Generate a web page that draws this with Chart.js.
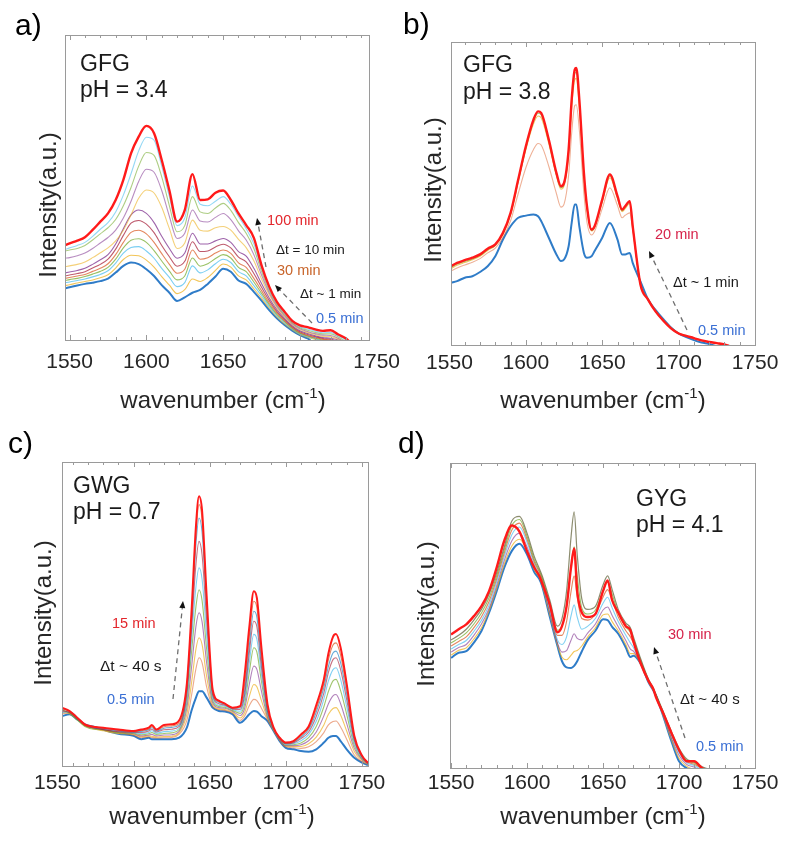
<!DOCTYPE html>
<html>
<head>
<meta charset="utf-8">
<script src="https://cdn.jsdelivr.net/npm/chart.js@4.4.1/dist/chart.umd.min.js"></script>
<style>
    body { margin: 0; background: #fff; width: 787px; height: 842px; position: relative; overflow: hidden; }
    canvas { position: absolute; }
</style>
</head>
<body>
<canvas id="chartA" width="410" height="421" style="left:0;top:0"></canvas>
<canvas id="chartB" width="394" height="421" style="left:393px;top:0"></canvas>
<canvas id="chartC" width="410" height="421" style="left:0;top:421px"></canvas>
<canvas id="chartD" width="394" height="421" style="left:393px;top:421px"></canvas>
<script>
// ── Datos (intensidad en % de la altura del recuadro) ─────────────
const tickLabels = [1550, 1600, 1650, 1700, 1750];

// a) GFG pH 3.4
const waveA = [1547, 1550, 1555, 1560, 1565, 1570, 1575, 1580, 1585, 1590, 1595, 1600, 1605, 1610, 1615, 1620, 1625, 1630, 1635, 1640, 1645, 1650, 1655, 1660, 1665, 1670, 1675, 1680, 1685, 1690, 1695, 1700, 1705, 1710, 1715, 1720, 1725, 1730, 1735];
const a100min = [31.1, 31.7, 32.6, 33.7, 36.1, 38.8, 41.5, 45.9, 52.5, 61.2, 66.7, 70.2, 67.8, 59, 49, 38.8, 42.6, 54.4, 45.9, 46.1, 48.3, 49, 45.9, 41.5, 37.7, 33.5, 24.5, 17.5, 12.5, 9.3, 6.3, 4.8, 4.2, 3.5, 3, 3.2, 1.8, 0.5, -2];
const aLightBlue = [29.7, 30.2, 31, 32, 34, 36.3, 38.5, 42, 47.5, 54.5, 62, 66.5, 65.5, 57, 47, 37.5, 40, 50.5, 44.5, 44, 45.5, 47, 44.5, 40.5, 36.5, 31.5, 23.5, 16.8, 12, 8.8, 6, 4.3, 3.6, 2.9, 2.4, 2.5, 1.3, 0, -2];
const aGreen = [29.2, 29.5, 30, 31, 32.8, 34.8, 36.8, 39.5, 44, 50, 57, 61.5, 60.5, 53.5, 44, 35.5, 37.5, 47, 42, 41.5, 43.3, 44.8, 42.5, 38.5, 35, 30, 22.5, 16.2, 11.6, 8.4, 5.7, 4, 3.2, 2.5, 2, 2, 1, -0.5, -2];
const aPurple = [26.8, 27, 27.6, 28.5, 30, 31.8, 33.6, 36, 40, 45.5, 52, 56, 55, 49, 40.5, 33.3, 35, 42.6, 39, 38.7, 40.2, 41.5, 39.5, 35.8, 32.8, 28, 21.3, 15.5, 11.1, 8, 5.4, 3.7, 2.8, 2.1, 1.6, 1.5, 0.6, -1, -2];
const aYellow = [24, 24.3, 24.8, 25.6, 27, 28.6, 30.2, 32.5, 36, 41, 46.5, 49.2, 48.2, 43.5, 36.5, 30, 31.8, 39.3, 36, 35.7, 36.8, 37.2, 36, 33, 30.3, 26, 20, 14.8, 10.6, 7.6, 5.1, 3.4, 2.5, 1.8, 1.2, 1.1, 0.3, -1, -2];
const aClust1 = [22, 22.3, 22.8, 23.5, 24.8, 26.3, 28, 31.5, 36.5, 41, 42.6, 41.5, 38.5, 34, 30, 26.8, 28.5, 35, 31.5, 31.5, 32.5, 33.3, 32, 29, 27.5, 23.5, 18.5, 13.8, 10, 7.1, 4.7, 3, 2.1, 1.4, 0.8, 0.6, 0, -1, -2];
const aClust2 = [21, 21.3, 21.8, 22.4, 23.6, 24.8, 26.5, 29.8, 34.3, 38.3, 39.2, 38, 35.2, 31, 27.3, 24.2, 25.8, 32.2, 29, 29.2, 30.5, 31.4, 30.2, 27.2, 25.6, 21.8, 17.3, 13, 9.4, 6.7, 4.4, 2.7, 1.8, 1.1, 0.5, 0.3, -0.5, -1, -2];
const aClust3 = [20.2, 20.5, 21, 21.5, 22.5, 23.5, 25, 28, 32, 35.3, 36, 34.8, 32, 28.3, 24.8, 21.9, 23.2, 29.5, 26.5, 27, 28.5, 29.5, 28.4, 25.3, 23.8, 20.2, 16.2, 12.2, 8.9, 6.3, 4.1, 2.4, 1.5, 0.8, 0.2, 0, -1, -1, -2];
const aClust4 = [19.5, 19.8, 20.2, 20.8, 21.6, 22.5, 23.8, 26.5, 30.2, 32.7, 33.2, 32, 29.3, 25.9, 22.6, 19.7, 21, 26.9, 24.2, 25, 26.7, 28, 26.9, 23.8, 22.4, 19, 15.3, 11.6, 8.4, 6, 3.8, 2.2, 1.3, 0.6, 0, -0.3, -1, -1, -2];
const aClust5 = [18.8, 19, 19.5, 20, 20.7, 21.5, 22.7, 25.2, 28.5, 30.3, 30.6, 29.2, 26.8, 23.5, 20.5, 17.5, 18.8, 24.3, 22, 23, 25, 26.5, 25.4, 22.4, 21, 17.8, 14.5, 11, 8, 5.6, 3.6, 2, 1.1, 0.4, -0.3, -0.5, -1, -1, -2];
const aClust6 = [17.8, 18.1, 18.7, 19.2, 19.7, 20.4, 21.4, 23.6, 26.4, 27.8, 27.6, 26.2, 23.9, 20.8, 18, 15.2, 16.5, 20, 19.2, 20.5, 22.8, 24.9, 23.9, 21, 19.7, 16.8, 13.7, 10.5, 7.6, 5.3, 3.4, 1.8, 0.9, 0.2, -0.5, -1, -1, -1, -2];
const a05min = [16.9, 17.3, 17.9, 18.4, 18.8, 19.3, 20.1, 22.1, 24.3, 25.4, 24.9, 23.2, 21, 18, 15.5, 12.8, 14, 15.5, 16.4, 18.4, 20.8, 23.4, 22.4, 19.5, 18.4, 15.8, 12.9, 9.8, 7.1, 4.9, 3.1, 1.6, 0.5, -1, -1, -1, -1, -1, -2];

// b) GFG pH 3.8
const waveB = [1551, 1555, 1560, 1565, 1570, 1575, 1580, 1585, 1590, 1595, 1600, 1605, 1608, 1610, 1615, 1620, 1623, 1625, 1628, 1630, 1632, 1633, 1635, 1638, 1640, 1643, 1645, 1650, 1655, 1660, 1663, 1665, 1668, 1670, 1675, 1680, 1685, 1690, 1695, 1700, 1705, 1710, 1715, 1720, 1725, 1730, 1733];
const b20min = [26, 27.1, 28, 28.8, 29.9, 31.8, 33.2, 37, 43.6, 54.6, 65.6, 74.4, 77.1, 76.6, 67.8, 56.8, 52.4, 53.5, 64.5, 81, 90.9, 91.4, 81, 56.8, 45.8, 38.1, 39.2, 48, 56.3, 49.1, 44.7, 45.8, 47.5, 39, 20, 15, 11, 8, 5.5, 3.8, 3, 2.3, 1.5, 1, 0.6, 0.2, -0.3];
const bGreen = [25.6, 26.7, 27.6, 28.4, 29.6, 31.5, 33, 36.8, 43.3, 54.2, 65, 73.8, 76.5, 76, 67.2, 56.2, 51.9, 53, 63.8, 80, 89.5, 90, 80, 56, 45.4, 37.8, 39, 47.6, 55.8, 48.7, 44.3, 45.4, 47.1, 38.8, 20.1, 15.1, 11.1, 8.1, 5.6, 3.9, 3, 2.3, 1.5, 1, 0.6, 0.1, -0.3];
const bYellow = [25.2, 26.3, 27.2, 28.1, 29.3, 31.2, 32.8, 36.5, 43, 53.8, 64.5, 73, 75.6, 75, 66.5, 55.8, 51.4, 52.5, 63, 78.5, 87.5, 88, 78.5, 55.5, 45, 37.6, 38.8, 47.2, 55.2, 48.3, 44, 45, 46.7, 38.5, 20.3, 15.2, 11.2, 8.1, 5.6, 3.9, 3, 2.3, 1.5, 1, 0.6, 0.1, -0.3];
const bOrange = [24.4, 25.4, 26.4, 27.3, 28.5, 30.4, 32, 35.5, 41, 50, 58.5, 64.5, 66.5, 66, 59, 50, 45.5, 46.5, 56, 70, 79, 79.3, 71, 50, 40.5, 36.3, 37.5, 45, 51.9, 46, 42, 42.8, 43.6, 38, 20, 15, 11, 8, 5.5, 3.8, 2.9, 2.2, 1.4, 0.9, 0.5, 0, -0.5];
const b05min = [20.5, 21.1, 22.2, 22.7, 24.1, 26, 29.3, 34.8, 39.2, 42, 42.7, 43.1, 42.5, 40.9, 35.4, 29.9, 27.7, 28.2, 32.6, 40.3, 46.4, 46.4, 39.2, 30.4, 28.8, 29.3, 31, 35.4, 40.3, 34.8, 29.9, 29.9, 30.4, 27, 21, 15, 11.5, 8.5, 5.8, 3.8, 2.6, 1.6, 0.8, 0.3, -0.5, -1, -1];

// c) GWG pH 0.7
const waveC = [1553, 1558, 1563, 1568, 1575, 1580, 1590, 1600, 1605, 1610, 1612, 1615, 1620, 1625, 1630, 1635, 1638, 1641, 1643, 1645, 1648, 1652, 1656, 1660, 1665, 1670, 1673, 1676, 1679, 1681, 1684, 1688, 1692, 1696, 1700, 1705, 1710, 1715, 1720, 1725, 1728, 1731, 1733, 1736, 1740, 1745, 1750, 1754];
const c15min = [19.2, 18.1, 15.9, 13.7, 12.8, 12.6, 12, 11.5, 12, 12.6, 13.5, 12, 13.5, 13.7, 15, 27, 50, 79, 88.7, 84, 56, 25, 21.5, 20.5, 19.2, 19.7, 30.1, 45.5, 57.5, 55.3, 38.9, 20.3, 12.6, 9.3, 7.7, 8.2, 10.4, 13, 20, 28.5, 37, 42.5, 43.4, 39, 27, 10, 3.5, 1];
const cStep8 = [19, 17.8, 15.8, 13.3, 12.7, 12.5, 11.8, 11.4, 11.7, 12.2, 13, 11.8, 12.9, 13.2, 14, 26.5, 48.5, 76.5, 86, 81, 54, 24.5, 21.2, 20.5, 19.1, 19.4, 27, 42.5, 54.2, 52.2, 36.7, 19.5, 12.5, 9.2, 7.5, 8, 10, 12.5, 18.8, 27.2, 35, 39.8, 40.5, 36.5, 25.5, 9.5, 3.4, 1];
const cStep7 = [18.9, 18, 15.5, 13.6, 12.5, 12.4, 11.7, 11.3, 11.4, 11.9, 12.6, 11.5, 12.4, 12.7, 13.5, 25.5, 47, 73, 81.6, 77, 52, 24, 21, 20.3, 19, 19.1, 25, 39.5, 50.9, 49, 34.6, 18.7, 12.4, 9.1, 7.4, 7.8, 9.5, 12, 17.7, 25.8, 32.8, 37.2, 37.8, 34, 23.7, 9, 3.2, 0.9];
const cStep6 = [18.3, 17.6, 15.6, 13.4, 12.4, 12, 11.3, 11.1, 11, 11.5, 12.1, 11.2, 11.9, 12.1, 13, 24, 44.5, 66.5, 73.9, 69.5, 48, 23.3, 20.5, 20, 18.8, 18.6, 23.5, 37, 47.6, 45.8, 32.6, 18, 12.3, 9, 7.3, 7.6, 9, 11.2, 16.3, 24, 30.8, 35, 35.6, 31.7, 21.8, 8.4, 3, 0.9];
const cStep5 = [17.5, 17.9, 16, 13.8, 12.6, 12.3, 11.5, 11, 10.7, 11, 11.6, 10.8, 11.3, 11.5, 12.5, 22.5, 41, 59, 65.2, 61.5, 43, 22.5, 20, 19.7, 18.6, 18, 22, 33.8, 43.3, 41.7, 30.1, 17.3, 12.1, 8.9, 7.1, 7.3, 8.3, 10.3, 14.7, 22, 28, 31.7, 32.3, 28.5, 19.5, 7.6, 2.8, 0.8];
const cStep4 = [18.6, 17.3, 15.1, 13, 12, 11.9, 11, 10.8, 10.3, 10.6, 11, 10.4, 10.7, 10.9, 12, 21, 37, 52.5, 58, 54.5, 38.5, 21.6, 19.6, 19.3, 18.3, 17.3, 20.5, 30.7, 38.9, 37.5, 27.8, 16.7, 12, 8.8, 6.9, 7, 7.6, 9.3, 13, 19.5, 24.5, 28, 28.5, 24.8, 17, 6.8, 2.5, 0.8];
const cStep3 = [18, 17.6, 15.8, 13.5, 12.4, 12.1, 11.2, 10.6, 9.9, 10.2, 10.4, 9.9, 10.2, 10.3, 11.5, 19, 32, 46, 50.4, 47.5, 34, 20.8, 19.2, 19, 18, 16.6, 19, 26.8, 32.9, 31.8, 24.6, 16.1, 11.9, 8.6, 6.7, 6.7, 7, 8.3, 11.2, 16.5, 20.5, 23.1, 23.5, 20.5, 14, 5.8, 2.2, 0.7];
const cStep2 = [17.8, 17.2, 15.4, 13.2, 12.1, 11.6, 10.7, 10.4, 9.6, 9.9, 9.8, 9.5, 9.7, 9.8, 11, 17, 27, 38.5, 42.2, 40, 29.5, 20, 18.8, 18.6, 17.7, 15.8, 17.6, 22.8, 26.8, 26.1, 21.5, 15.6, 11.8, 8.5, 6.5, 6.4, 6.4, 7.3, 9.5, 13.5, 17, 18.9, 19.2, 16.8, 11.5, 4.8, 1.9, 0.6];
const cStep1 = [17.2, 17.5, 15.6, 13.4, 12.3, 11.8, 10.9, 10.2, 9.3, 9.6, 9.4, 9.2, 9.3, 9.4, 10.5, 15, 23, 32, 35.6, 34, 26, 19.5, 18.6, 18.3, 17.4, 15, 16.5, 19.8, 21.9, 21.5, 19, 15.2, 11.6, 8.4, 6.3, 6, 5.8, 6.3, 8, 11, 13.5, 14.6, 14.8, 12.8, 8.8, 3.6, 1.5, 0.5];
const c05min = [16.4, 17, 15.3, 13.7, 12.8, 12, 10.6, 9.9, 8.8, 9.3, 8.8, 8.8, 8.8, 8.8, 9.3, 12.6, 18.1, 22.5, 24.6, 24.6, 22.5, 19.2, 18.1, 17.9, 17, 14.2, 15.3, 17, 18.1, 17.9, 16.4, 14.8, 11.5, 8.2, 6, 5.5, 4.9, 4.7, 5.5, 7.7, 9.3, 9.9, 9.9, 8.2, 5.5, 2.7, 1.1, 0.3];

// d) GYG pH 4.1
const waveD = [1550, 1555, 1560, 1565, 1570, 1575, 1580, 1585, 1590, 1595, 1600, 1605, 1608, 1610, 1615, 1620, 1623, 1626, 1629, 1631, 1633, 1636, 1640, 1645, 1650, 1653, 1656, 1660, 1665, 1668, 1670, 1675, 1680, 1683, 1685, 1690, 1695, 1700, 1705, 1710, 1715, 1720];
const d30min = [43.8, 45.5, 47.1, 49.8, 53.1, 58, 65.7, 74.5, 79.5, 77.5, 71, 65.5, 63, 60.5, 53.5, 44.5, 46.5, 53, 66, 72, 58, 51, 49.5, 50.5, 58, 61.5, 55, 51, 46.5, 45.2, 41.5, 34, 28.5, 26, 23, 17.5, 11.5, 6, 2.2, 2.2, 0, -1];
const dTop = [42, 43.5, 45.5, 48.5, 52, 57, 64, 72.5, 81, 82.5, 77, 69, 65.5, 63, 55, 46.5, 49, 58, 76, 84, 70, 55.5, 52, 53, 60, 63, 58.5, 52, 47.5, 46, 43, 35.5, 29, 26.3, 24, 18, 12, 6.5, 3, 2, 0.5, -0.5];
const dGreen = [41, 42.5, 44.3, 47.2, 50.8, 55.8, 63, 71.5, 79.5, 81.5, 76, 68, 64.8, 62.3, 54, 45.2, 46.5, 53, 66, 72.5, 63, 52.5, 50.5, 51.8, 58, 61, 57, 50.8, 46.3, 44.5, 42.2, 35, 28.8, 26.1, 23.8, 17.8, 11.6, 6, 2.6, 1.6, 0.2, -0.5];
const dOrange = [40, 41.5, 43, 46, 49.6, 54.6, 62, 70.5, 78, 80.3, 75, 67.3, 64.3, 61.8, 53, 43.5, 43.5, 48, 58, 63, 56, 49, 48.5, 50.5, 56, 58.5, 55, 49.5, 45, 43, 41, 34.6, 28.6, 25.9, 23.7, 17.5, 11.2, 5.5, 2.2, 1.2, 0, -1];
const dLightBlue = [39, 40.5, 41.8, 44.8, 48.4, 53.4, 61, 69.3, 76.5, 79, 74, 66.5, 63.6, 61.2, 52, 42, 40.5, 43, 50, 53.5, 49.5, 45.5, 46.5, 49, 54, 56, 52.5, 48, 43.5, 41, 39.5, 34.3, 28.4, 25.8, 23.6, 17.2, 10.7, 5, 1.8, 0.8, -0.5, -1];
const dPurple = [38, 39.5, 40.5, 43.5, 47.2, 52.3, 59.8, 68, 74.5, 77, 72.5, 65.5, 63, 60.5, 51, 41, 38, 38.5, 42, 44, 42.5, 42, 44.3, 47.2, 51.8, 52.8, 50, 46.3, 41.8, 39, 38.3, 34.1, 28.2, 25.7, 23.5, 16.8, 10, 4.2, 1.2, 0.3, -1, -1];
const dYellow = [37, 38.6, 39.4, 42.3, 46, 51.6, 58.8, 66.8, 72.8, 75, 71.3, 64.8, 62.5, 60, 50.2, 40.5, 36.3, 35.5, 37, 38.2, 38.5, 40, 43, 46, 50.2, 50.5, 48, 45, 40.5, 37.5, 37.5, 34, 28.1, 25.6, 23.5, 16.6, 9.4, 3.2, 0.6, -0.5, -1, -1];
const d05min = [36.1, 37.8, 38.3, 41.1, 44.9, 50.9, 58, 65.7, 71.2, 73.5, 70, 64, 62, 59.5, 49.5, 40, 35, 33, 32.8, 33.5, 35, 38.2, 42, 45, 48.8, 48.5, 46.3, 44, 39.5, 36.4, 36.8, 34, 28, 25.5, 23.5, 16.4, 8.8, 2.2, 0, -1, -1, -1];

// ── Estilos ──────────────────────────────────────────────────
const FONT = '"Liberation Sans", Arial, Helvetica, sans-serif';
const C_RED = "#ff1a1a";
const C_BLUE = "#2f7cc8";
const M = { blue: "#0072BD", orange: "#D95319", yellow: "#EDB120", purple: "#7E2F8E", green: "#77AC30", cyan: "#4DBEEE", wine: "#A2142F" };
const TXT_RED = "#e3262c", TXT_CRIMSON = "#d6234a", TXT_ORANGE = "#c8642a", TXT_BLUE = "#3a6fd4", TXT_DARK = "#1a1a1a";

function fade(hex, a) {
    const n = parseInt(hex.slice(1), 16);
    return `rgba(${n >> 16}, ${(n >> 8) & 255}, ${n & 255}, ${a})`;
}

function serie(wave, vals, color, width) {
    return {
        data: wave.map((x, i) => ({ x, y: vals[i] })),
        borderColor: color,
        borderWidth: width,
        pointRadius: 0,
        fill: false,
        cubicInterpolationMode: "monotone"
    };
}

// ── Helpers de dibujo ────────────────────────────────────────
function drawXTitle(ctx, cx, y) {
    const main = "wavenumber (cm", sup = "-1", end = ")";
    ctx.font = `24px ${FONT}`;
    const w1 = ctx.measureText(main).width, w3 = ctx.measureText(end).width;
    ctx.font = `15px ${FONT}`;
    const w2 = ctx.measureText(sup).width;
    let x = cx - (w1 + w2 + w3) / 2;
    ctx.textAlign = "left";
    ctx.textBaseline = "alphabetic";
    ctx.font = `24px ${FONT}`; ctx.fillText(main, x, y); x += w1;
    ctx.font = `15px ${FONT}`; ctx.fillText(sup, x, y - 10); x += w2;
    ctx.font = `24px ${FONT}`; ctx.fillText(end, x, y);
}

function drawArrow(ctx, x1, y1, x2, y2) {
    const ang = Math.atan2(y2 - y1, x2 - x1);
    const c = Math.cos(ang), s = Math.sin(ang);
    ctx.save();
    ctx.strokeStyle = "#6e6e6e";
    ctx.lineWidth = 1.3;
    ctx.setLineDash([5, 4]);
    ctx.beginPath();
    ctx.moveTo(x1, y1);
    ctx.lineTo(x2 - 6 * c, y2 - 6 * s);
    ctx.stroke();
    ctx.setLineDash([]);
    ctx.fillStyle = "#111";
    ctx.beginPath();
    ctx.moveTo(x2, y2);
    ctx.lineTo(x2 - 7 * c + 3 * s, y2 - 7 * s - 3 * c);
    ctx.lineTo(x2 - 7 * c - 3 * s, y2 - 7 * s + 3 * c);
    ctx.closePath();
    ctx.fill();
    ctx.restore();
}

function makeChart(id, cfg) {
    const canvas = document.getElementById(id);
    const W = canvas.width, H = canvas.height;
    const box = cfg.box;

    const decor = {
        id: "decor",
        afterDatasetsDraw(chart) {
            const ctx = chart.ctx;
            const a = chart.chartArea;
            const xs = chart.scales.x;
            ctx.save();
            ctx.strokeStyle = "#9a9a9a";
            ctx.lineWidth = 1;
            ctx.strokeRect(Math.round(a.left) + 0.5, Math.round(a.top) + 0.5, Math.round(a.right - a.left), Math.round(a.bottom - a.top));
            ctx.beginPath();
            for (let v = Math.ceil(cfg.min / 10) * 10; v <= cfg.max; v += 10) {
                const px = Math.round(xs.getPixelForValue(v)) + 0.5;
                const len = v % 50 === 0 ? 5 : 3;
                ctx.moveTo(px, a.bottom); ctx.lineTo(px, a.bottom - len);
                ctx.moveTo(px, a.top); ctx.lineTo(px, a.top + len);
            }
            ctx.stroke();
            ctx.restore();
        },
        afterDraw(chart) {
            const ctx = chart.ctx;
            ctx.save();
            ctx.fillStyle = "#262626";
            drawXTitle(ctx, cfg.xTitle[0], cfg.xTitle[1]);
            ctx.translate(cfg.yTitle[0], cfg.yTitle[1]);
            ctx.rotate(-Math.PI / 2);
            ctx.font = `24px ${FONT}`;
            ctx.textAlign = "center";
            ctx.textBaseline = "middle";
            ctx.fillText("Intensity(a.u.)", 0, 0);
            ctx.restore();

            ctx.save();
            ctx.textAlign = "left";
            ctx.textBaseline = "alphabetic";
            cfg.texts.forEach(t => {
                ctx.font = `${t.size}px ${FONT}`;
                ctx.fillStyle = t.color || TXT_DARK;
                ctx.fillText(t.t, t.x, t.y);
            });
            ctx.restore();
            cfg.arrows.forEach(ar => drawArrow(ctx, ...ar));
        }
    };

    return new Chart(canvas, {
        type: "line",
        data: { datasets: cfg.series },
        options: {
            responsive: false,
            animation: false,
            events: [],
            layout: { padding: { left: box.l, top: box.t, right: W - box.r, bottom: 0 } },
            plugins: { legend: { display: false }, tooltip: { enabled: false } },
            scales: {
                x: {
                    type: "linear",
                    min: cfg.min,
                    max: cfg.max,
                    grid: { display: false, drawTicks: false },
                    border: { display: false },
                    ticks: {
                        font: { size: 21, family: FONT },
                        color: "#262626",
                        padding: cfg.tickPad,
                        autoSkip: false,
                        maxRotation: 0,
                        callback: v => String(v)
                    },
                    afterBuildTicks: s => { s.ticks = tickLabels.map(v => ({ value: v })); },
                    afterFit: s => { s.height = H - box.b; }
                },
                y: { display: false, min: 0, max: 100 }
            }
        },
        plugins: [decor]
    });
}

// ── Paneles ──────────────────────────────────────────────────
makeChart("chartA", {
    box: { l: 65, t: 35, r: 369, b: 340 }, min: 1547, max: 1745, tickPad: 10,
    xTitle: [223, 408], yTitle: [49, 205],
    series: [
        serie(waveA, a100min, C_RED, 2.4),
        serie(waveA, aLightBlue, fade(M.cyan, 0.6), 1.1),
        serie(waveA, aGreen, fade(M.green, 0.6), 1.1),
        serie(waveA, aPurple, fade(M.purple, 0.55), 1.1),
        serie(waveA, aYellow, fade(M.yellow, 0.6), 1.1),
        serie(waveA, aClust1, fade(M.purple, 0.75), 1.1),
        serie(waveA, aClust2, fade(M.wine, 0.7), 1.1),
        serie(waveA, aClust3, fade(M.orange, 0.7), 1.1),
        serie(waveA, aClust4, fade(M.green, 0.75), 1.1),
        serie(waveA, aClust5, fade(M.cyan, 0.75), 1.1),
        serie(waveA, aClust6, fade(M.yellow, 0.75), 1.1),
        serie(waveA, a05min, C_BLUE, 2)
    ],
    texts: [
        { t: "a)", x: 15, y: 35, size: 30, color: "#000" },
        { t: "GFG", x: 80, y: 71, size: 23 },
        { t: "pH = 3.4", x: 80, y: 97, size: 23 },
        { t: "100 min", x: 267, y: 225, size: 14.5, color: TXT_RED },
        { t: "\u0394t = 10 min", x: 276, y: 254, size: 13.5 },
        { t: "30 min", x: 277, y: 275, size: 14.5, color: TXT_ORANGE },
        { t: "\u0394t ~ 1 min", x: 300, y: 298, size: 13.5 },
        { t: "0.5 min", x: 316, y: 323, size: 14.5, color: TXT_BLUE }
    ],
    arrows: [[266, 267, 257, 218], [312, 323, 275, 285]]
});

makeChart("chartB", {
    box: { l: 58, t: 42, r: 362, b: 345 }, min: 1551, max: 1750, tickPad: 6,
    xTitle: [210, 408], yTitle: [41, 190],
    series: [
        serie(waveB, b20min, C_RED, 2.4),
        serie(waveB, bGreen, fade(M.green, 0.7), 1.1),
        serie(waveB, bYellow, fade(M.yellow, 0.7), 1.1),
        serie(waveB, bOrange, fade(M.orange, 0.45), 1.1),
        serie(waveB, b05min, C_BLUE, 2)
    ],
    texts: [
        { t: "b)", x: 10, y: 34, size: 30, color: "#000" },
        { t: "GFG", x: 70, y: 72, size: 23 },
        { t: "pH = 3.8", x: 70, y: 99, size: 23 },
        { t: "20 min", x: 262, y: 239, size: 14.5, color: TXT_CRIMSON },
        { t: "\u0394t ~ 1 min", x: 280, y: 287, size: 14.5 },
        { t: "0.5 min", x: 305, y: 335, size: 14.5, color: TXT_BLUE }
    ],
    arrows: [[294, 330, 256, 251]]
});

makeChart("chartC", {
    box: { l: 62, t: 41, r: 368, b: 345 }, min: 1553, max: 1754, tickPad: 5,
    xTitle: [212, 403], yTitle: [44, 192],
    series: [
        serie(waveC, c15min, C_RED, 2),
        serie(waveC, cStep8, fade(M.orange, 0.7), 1.1),
        serie(waveC, cStep7, fade(M.blue, 0.6), 1.1),
        serie(waveC, cStep6, fade(M.wine, 0.6), 1.1),
        serie(waveC, cStep5, fade(M.cyan, 0.7), 1.1),
        serie(waveC, cStep4, fade(M.green, 0.7), 1.1),
        serie(waveC, cStep3, fade(M.purple, 0.6), 1.1),
        serie(waveC, cStep2, fade(M.yellow, 0.7), 1.1),
        serie(waveC, cStep1, fade(M.orange, 0.5), 1.1),
        serie(waveC, c05min, C_BLUE, 2)
    ],
    texts: [
        { t: "c)", x: 8, y: 32, size: 30, color: "#000" },
        { t: "GWG", x: 73, y: 72, size: 23 },
        { t: "pH = 0.7", x: 73, y: 98, size: 23 },
        { t: "15 min", x: 112, y: 207, size: 14.5, color: TXT_RED },
        { t: "\u0394t ~ 40 s", x: 100, y: 250, size: 15.5 },
        { t: "0.5 min", x: 107, y: 283, size: 14.5, color: TXT_BLUE }
    ],
    arrows: [[173, 278, 183, 180]]
});

makeChart("chartD", {
    box: { l: 57, t: 42, r: 362, b: 347 }, min: 1549.3, max: 1750, tickPad: 3,
    xTitle: [210, 403], yTitle: [34, 193],
    series: [
        serie(waveD, d30min, C_RED, 2.4),
        serie(waveD, dTop, fade("#6f6f4a", 0.8), 1.2),
        serie(waveD, dGreen, fade(M.green, 0.75), 1.1),
        serie(waveD, dOrange, fade(M.orange, 0.7), 1.1),
        serie(waveD, dLightBlue, fade(M.cyan, 0.7), 1.1),
        serie(waveD, dPurple, fade(M.purple, 0.6), 1.1),
        serie(waveD, dYellow, fade(M.yellow, 0.75), 1.1),
        serie(waveD, d05min, C_BLUE, 2)
    ],
    texts: [
        { t: "d)", x: 5, y: 32, size: 30, color: "#000" },
        { t: "GYG", x: 243, y: 85, size: 23 },
        { t: "pH = 4.1", x: 243, y: 111, size: 23 },
        { t: "30 min", x: 275, y: 218, size: 14.5, color: TXT_CRIMSON },
        { t: "\u0394t ~ 40 s", x: 287, y: 283, size: 15 },
        { t: "0.5 min", x: 303, y: 330, size: 14.5, color: TXT_BLUE }
    ],
    arrows: [[292, 317, 261, 226]]
});
</script>
</body>
</html>
